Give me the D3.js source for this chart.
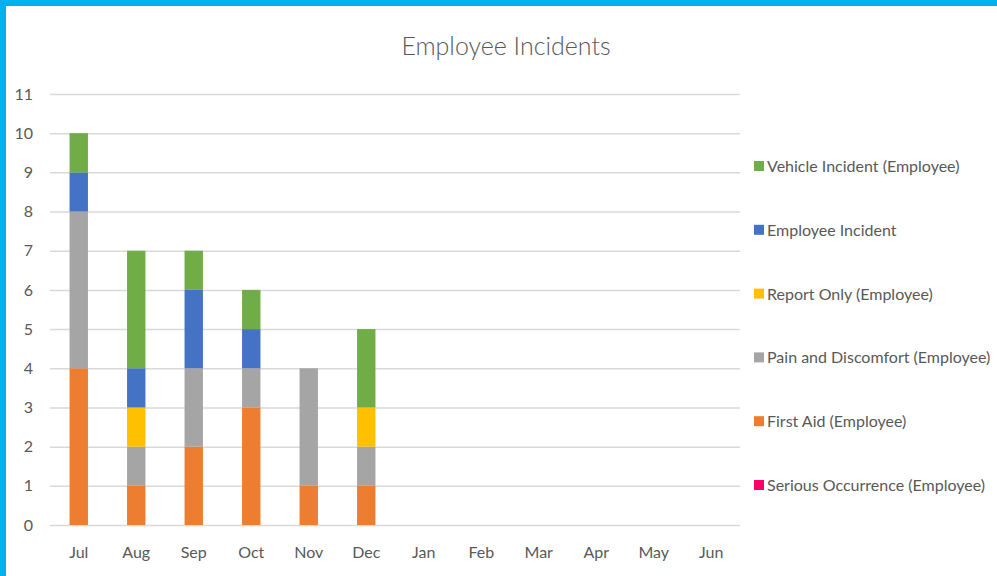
<!DOCTYPE html>
<html>
<head>
<meta charset="utf-8">
<script src="https://cdn.jsdelivr.net/npm/d3@7"></script>
<style>
  html, body { margin: 0; padding: 0; background: #fff; }
  svg { display: block; }
  text { font-family: Lato, "Open Sans", sans-serif; fill: #595959; }
</style>
</head>
<body>
<svg id="chart" width="997" height="576"></svg>
<script>
// Monthly incident counts by category
const months = ["Jul","Aug","Sep","Oct","Nov","Dec","Jan","Feb","Mar","Apr","May","Jun"];
const seriousOccurrence = [0,0,0,0,0,0,0,0,0,0,0,0];
const firstAid          = [4,1,2,3,1,1,0,0,0,0,0,0];
const painDiscomfort    = [4,1,2,1,3,1,0,0,0,0,0,0];
const reportOnly        = [0,1,0,0,0,1,0,0,0,0,0,0];
const employeeIncident  = [1,1,2,1,0,0,0,0,0,0,0,0];
const vehicleIncident   = [1,3,1,1,0,2,0,0,0,0,0,0];
const yTicks = [0,1,2,3,4,5,6,7,8,9,10,11];

// Stack order bottom-to-top
const series = [
  { name: "Serious Occurrence (Employee)", values: seriousOccurrence, color: "#ff0066" },
  { name: "First Aid (Employee)",          values: firstAid,          color: "#ed7d31" },
  { name: "Pain and Discomfort (Employee)",values: painDiscomfort,    color: "#a5a5a5" },
  { name: "Report Only (Employee)",        values: reportOnly,        color: "#ffc000" },
  { name: "Employee Incident",             values: employeeIncident,  color: "#4472c4" },
  { name: "Vehicle Incident (Employee)",   values: vehicleIncident,   color: "#70ad47" }
];

const svg = d3.select("#chart");
const W = 997, H = 576;

// Frame accents on top and left edges
svg.append("rect").attr("x", 0).attr("y", 0).attr("width", W).attr("height", 6).attr("fill", "#00b0f0");
svg.append("rect").attr("x", 0).attr("y", 0).attr("width", 6).attr("height", H).attr("fill", "#00b0f0");

const plot = { left: 50, right: 740, top: 94, bottom: 525 };

const x = d3.scaleBand().domain(months).range([plot.left, plot.right]).paddingInner(0.68).paddingOuter(0.34);
const y = d3.scaleLinear().domain([0, 11]).range([plot.bottom, plot.top]);

// Title
svg.append("text")
  .attr("x", 506)
  .attr("y", 55)
  .attr("text-anchor", "middle")
  .style("font-size", "25px")
  .style("font-weight", 300)
  .text("Employee Incidents");

// Gridlines and value labels
const yAxis = d3.axisLeft(y).tickValues(yTicks).tickSize(-(plot.right - plot.left)).tickPadding(17).tickFormat(d3.format("d"));
const gy = svg.append("g").attr("transform", `translate(${plot.left},0)`).call(yAxis);
gy.select(".domain").remove();
gy.selectAll(".tick line").attr("stroke", "#d9d9d9").attr("stroke-width", 1.5);
gy.selectAll(".tick text").style("font-size", "16px").attr("fill", "#595959");

// Stacked bars
const table = months.map((m, i) => {
  const row = { month: m };
  series.forEach(s => row[s.name] = s.values[i]);
  return row;
});
const stack = d3.stack().keys(series.map(s => s.name));
const layers = stack(table);

svg.append("g").selectAll("g")
  .data(layers)
  .join("g")
  .attr("fill", (d, i) => series[i].color)
  .selectAll("rect")
  .data(d => d.filter(p => p[1] > p[0]))
  .join("rect")
  .attr("x", d => x(d.data.month))
  .attr("width", x.bandwidth())
  .attr("y", d => y(d[1]))
  .attr("height", d => y(d[0]) - y(d[1]));

// Category axis labels
const xAxis = d3.axisBottom(x).tickSize(0).tickPadding(22);
const gx = svg.append("g").attr("transform", `translate(0,${plot.bottom})`).call(xAxis);
gx.select(".domain").remove();
gx.selectAll(".tick text").style("font-size", "16px").attr("fill", "#595959");

// Legend, top-to-bottom in reverse stack order
const legendItems = series.slice().reverse();
const legend = svg.append("g").selectAll("g")
  .data(legendItems)
  .join("g")
  .attr("transform", (d, i) => `translate(754,${166 + i * 63.8})`);
legend.append("rect").attr("x", 0).attr("y", -5).attr("width", 10).attr("height", 10).attr("fill", d => d.color);
legend.append("text").attr("x", 13).attr("y", 6).style("font-size", "16px").text(d => d.name);
</script>
</body>
</html>
